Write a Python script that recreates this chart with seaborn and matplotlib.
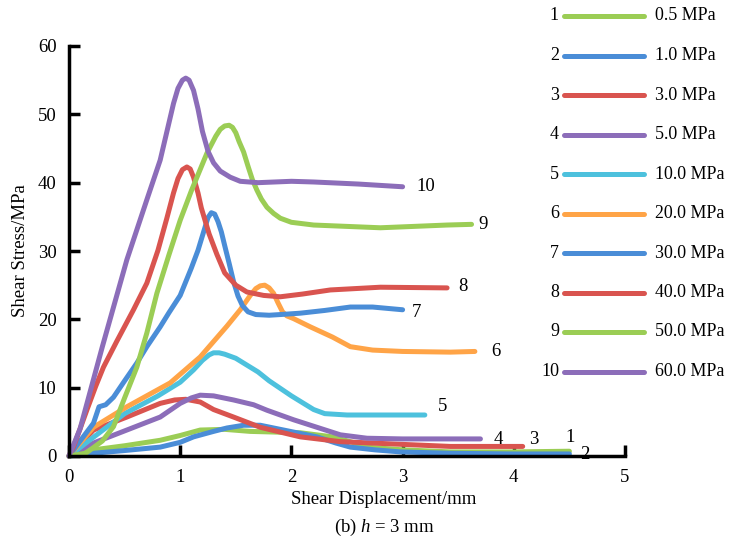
import numpy as np
import pandas as pd
import matplotlib
matplotlib.use("Agg")
import matplotlib.pyplot as plt
from matplotlib.lines import Line2D
import seaborn as sns

# ---------------- data ----------------
x1 = [0, 0.22, 0.5, 0.82, 1.0, 1.18, 1.4, 1.63, 2.08, 2.37, 2.55, 2.68, 3.0, 3.43, 4.0, 4.5]
y1 = [0, 0.9, 1.5, 2.3, 3.0, 3.8, 3.9, 3.6, 3.4, 2.8, 2.0, 1.3, 0.9, 0.6, 0.6, 0.7]

x2 = [0, 0.22, 0.5, 0.82, 1.0, 1.12, 1.3, 1.42, 1.57, 1.72, 1.93, 2.23, 2.4, 2.53, 2.75, 2.98, 3.43, 4.0, 4.5]
y2 = [0, 0.4, 0.8, 1.3, 2.0, 2.8, 3.6, 4.1, 4.5, 4.5, 3.8, 2.8, 1.9, 1.3, 0.9, 0.6, 0.4, 0.3, 0.3]

x3 = [0, 0.22, 0.52, 0.82, 0.95, 1.05, 1.18, 1.3, 1.48, 1.72, 2.08, 2.44, 3.0, 3.43, 4.08]
y3 = [0, 3.8, 5.7, 7.7, 8.2, 8.3, 7.9, 6.8, 5.7, 4.2, 2.8, 2.1, 1.7, 1.4, 1.4]

x4 = [0, 0.22, 0.52, 0.82, 1.0, 1.1, 1.18, 1.3, 1.48, 1.66, 1.78, 2.02, 2.23, 2.44, 2.68, 3.0, 3.43, 3.7]
y4 = [0, 1.9, 3.8, 5.7, 7.7, 8.5, 8.9, 8.8, 8.2, 7.5, 6.7, 5.3, 4.2, 3.1, 2.6, 2.5, 2.5, 2.5]

x5 = [0, 0.2, 0.5, 0.8, 1.0, 1.12, 1.2, 1.26, 1.3, 1.35, 1.4, 1.5, 1.6, 1.7, 1.8, 1.9, 2.0, 2.1, 2.2,
      2.3, 2.5, 2.8, 3.2]
y5 = [0, 2.5, 6.2, 8.8, 10.8, 12.6, 14.0, 14.8, 15.1, 15.1, 14.9, 14.3, 13.3, 12.3, 11.0, 9.9, 8.8, 7.8,
      6.8, 6.2, 6.0, 6.0, 6.0]

x6 = [0, 0.22, 0.52, 0.91, 1.18, 1.42, 1.54, 1.63, 1.68, 1.72, 1.76, 1.8, 1.84, 1.88, 1.92, 1.96, 2.02,
      2.17, 2.37, 2.53, 2.73, 3.0, 3.43, 3.65]
y6 = [0, 4.2, 7.2, 10.7, 14.5, 19.0, 21.4, 23.5, 24.5, 24.9, 25.0, 24.6, 23.8, 22.4, 21.1, 20.5, 20.1,
      18.9, 17.4, 16.0, 15.5, 15.3, 15.2, 15.3]

x7 = [0, 0.1, 0.22, 0.27, 0.33, 0.4, 0.5, 0.61, 0.7, 0.82, 0.9, 1.0, 1.1, 1.16, 1.22, 1.25, 1.28, 1.31,
      1.34, 1.37, 1.4, 1.44, 1.48, 1.52, 1.56, 1.61, 1.68, 1.8, 1.9, 2.08, 2.3, 2.53, 2.73, 3.0]
y7 = [0, 2.2, 4.8, 7.2, 7.5, 8.6, 11.0, 13.6, 16.0, 18.9, 21.0, 23.5, 27.5, 30.1, 33.3, 34.9, 35.6, 35.4,
      34.3, 32.8, 30.8, 28.2, 25.5, 23.4, 22.0, 21.1, 20.7, 20.6, 20.7, 20.9, 21.3, 21.8, 21.8, 21.4]

x8 = [0, 0.04, 0.16, 0.24, 0.31, 0.43, 0.58, 0.7, 0.8, 0.88, 0.94, 0.98, 1.02, 1.06, 1.09, 1.12, 1.16,
      1.19, 1.26, 1.33, 1.4, 1.5, 1.6, 1.75, 1.9, 2.1, 2.35, 2.8, 3.4]
y8 = [0, 1.3, 6.7, 10.2, 13.0, 16.8, 21.4, 25.3, 30.1, 34.8, 38.5, 40.6, 41.9, 42.3, 42.0, 40.8, 38.5,
      36.3, 32.5, 29.5, 26.8, 25.0, 24.0, 23.5, 23.3, 23.7, 24.3, 24.7, 24.6]

x9 = [0, 0.15, 0.3, 0.4, 0.5, 0.61, 0.7, 0.79, 0.9, 1.0, 1.1, 1.24, 1.32, 1.36, 1.4, 1.44, 1.47, 1.5,
      1.53, 1.57, 1.61, 1.65, 1.69, 1.73, 1.78, 1.84, 1.9, 2.0, 2.2, 2.5, 2.8, 3.1, 3.4, 3.62]
y9 = [0, 0.4, 2.2, 4.3, 8.5, 13.0, 18.0, 23.8, 29.5, 34.5, 38.8, 44.3, 46.8, 47.8, 48.3, 48.4, 48.1, 47.3,
      46.0, 44.5, 42.4, 40.4, 38.9, 37.6, 36.4, 35.5, 34.8, 34.2, 33.8, 33.6, 33.4, 33.6, 33.8, 33.9]

x10 = [0, 0.1, 0.2, 0.3, 0.52, 0.7, 0.82, 0.94, 0.98, 1.02, 1.05, 1.08, 1.12, 1.16, 1.2, 1.25, 1.3, 1.36,
       1.45, 1.54, 1.7, 2.0, 2.2, 2.6, 3.0]
y10 = [0, 4.0, 10.0, 16.0, 28.7, 37.5, 43.3, 51.6, 53.8, 55.0, 55.3, 55.0, 53.5, 50.8, 47.5, 44.6, 42.9,
       41.7, 40.8, 40.2, 40.0, 40.2, 40.1, 39.8, 39.4]

series_ids = ["1", "2", "3", "4", "5", "6", "7", "8", "9", "10"]
pressures = ["0.5 MPa", "1.0 MPa", "3.0 MPa", "5.0 MPa", "10.0 MPa",
             "20.0 MPa", "30.0 MPa", "40.0 MPa", "50.0 MPa", "60.0 MPa"]
xs = [x1, x2, x3, x4, x5, x6, x7, x8, x9, x10]
ys = [y1, y2, y3, y4, y5, y6, y7, y8, y9, y10]

# curve-end number labels (data coords)
end_label_x = [4.46, 4.60, 4.14, 3.82, 3.32, 3.80, 3.08, 3.50, 3.68, 3.12]
end_label_y = [2.7, 0.2, 2.4, 2.4, 7.3, 15.3, 21.0, 24.8, 33.9, 39.4]

GREEN = "#9BCD55"
BLUE = "#4A8DD7"
RED = "#D9544F"
PURPLE = "#8C6DB9"
CYAN = "#4DC1DD"
ORANGE = "#FFA447"
colors = [GREEN, BLUE, RED, PURPLE, CYAN, ORANGE, BLUE, RED, GREEN, PURPLE]

# ---------------- plotting ----------------
sns.set_theme(style="white")
plt.rcParams["font.family"] = ["Liberation Serif", "DejaVu Serif"]
plt.rcParams["mathtext.fontset"] = "custom"
plt.rcParams["mathtext.rm"] = "Liberation Serif"
plt.rcParams["mathtext.it"] = "Liberation Serif:italic"
plt.rcParams["text.color"] = "black"
plt.rcParams["axes.labelcolor"] = "black"
plt.rcParams["xtick.color"] = "black"
plt.rcParams["ytick.color"] = "black"

rows = []
for sid, xv, yv in zip(series_ids, xs, ys):
    for i, (a, b) in enumerate(zip(xv, yv)):
        rows.append({"series": sid, "order": i, "x": a, "y": b})
df = pd.DataFrame(rows)

W, H = 736, 543
fig = plt.figure(figsize=(W / 100, H / 100), dpi=100)
L, R, T, B = 69, 625, 46, 456
ax = fig.add_axes([L / W, 1 - B / H, (R - L) / W, (B - T) / H])

LW = 3.6
sns.lineplot(data=df, x="x", y="y", hue="series", hue_order=series_ids,
             palette=dict(zip(series_ids, colors)), sort=False, estimator=None,
             linewidth=LW, legend=False, ax=ax)
for ln in ax.lines:
    ln.set_solid_capstyle("round")
    ln.set_solid_joinstyle("round")
    ln.set_clip_on(False)

ax.set_xlim(0, 5)
ax.set_ylim(0, 60)
ax.set_xticks([0, 1, 2, 3, 4, 5])
ax.set_yticks([0, 10, 20, 30, 40, 50, 60])
for s in ["top", "right"]:
    ax.spines[s].set_visible(False)
for s in ["left", "bottom"]:
    ax.spines[s].set_linewidth(2.5)
    ax.spines[s].set_color("black")
ax.tick_params(axis="both", direction="in", length=8, width=2.5, colors="black",
               labelsize=13.5, bottom=True, left=True, top=False, right=False)
ax.tick_params(axis="y", pad=9)
ax.tick_params(axis="x", pad=9)

ax.set_xlabel("Shear Displacement/mm", fontsize=13.5, color="black")
ax.xaxis.label.set_va("center")
ax.xaxis.set_label_coords((384 - L) / (R - L), (B - 500) / (B - T))
ax.set_ylabel("Shear Stress/MPa", fontsize=13.5, labelpad=6, color="black")
fig.text(384 / W, 1 - 527 / H, "(b) $h$ = 3 mm", ha="center", va="center",
         fontsize=13.5, color="black")

for sid, lx, ly in zip(series_ids, end_label_x, end_label_y):
    ax.text(lx, ly, sid, fontsize=13.5, ha="left", va="center", color="black")

# legend column on the right
for i, (sid, lab, c) in enumerate(zip(series_ids, pressures, colors)):
    ypx = 16 + i * 39.5
    yf = 1 - ypx / H
    fig.text(559 / W, yf, sid, ha="right", va="center", fontsize=13, color="black")
    fig.add_artist(Line2D([564 / W, 644 / W], [yf, yf], transform=fig.transFigure,
                          color=c, lw=LW, solid_capstyle="round"))
    fig.text(655 / W, yf, lab, ha="left", va="center", fontsize=12.9, color="black")

fig.savefig("out.png", dpi=100)
